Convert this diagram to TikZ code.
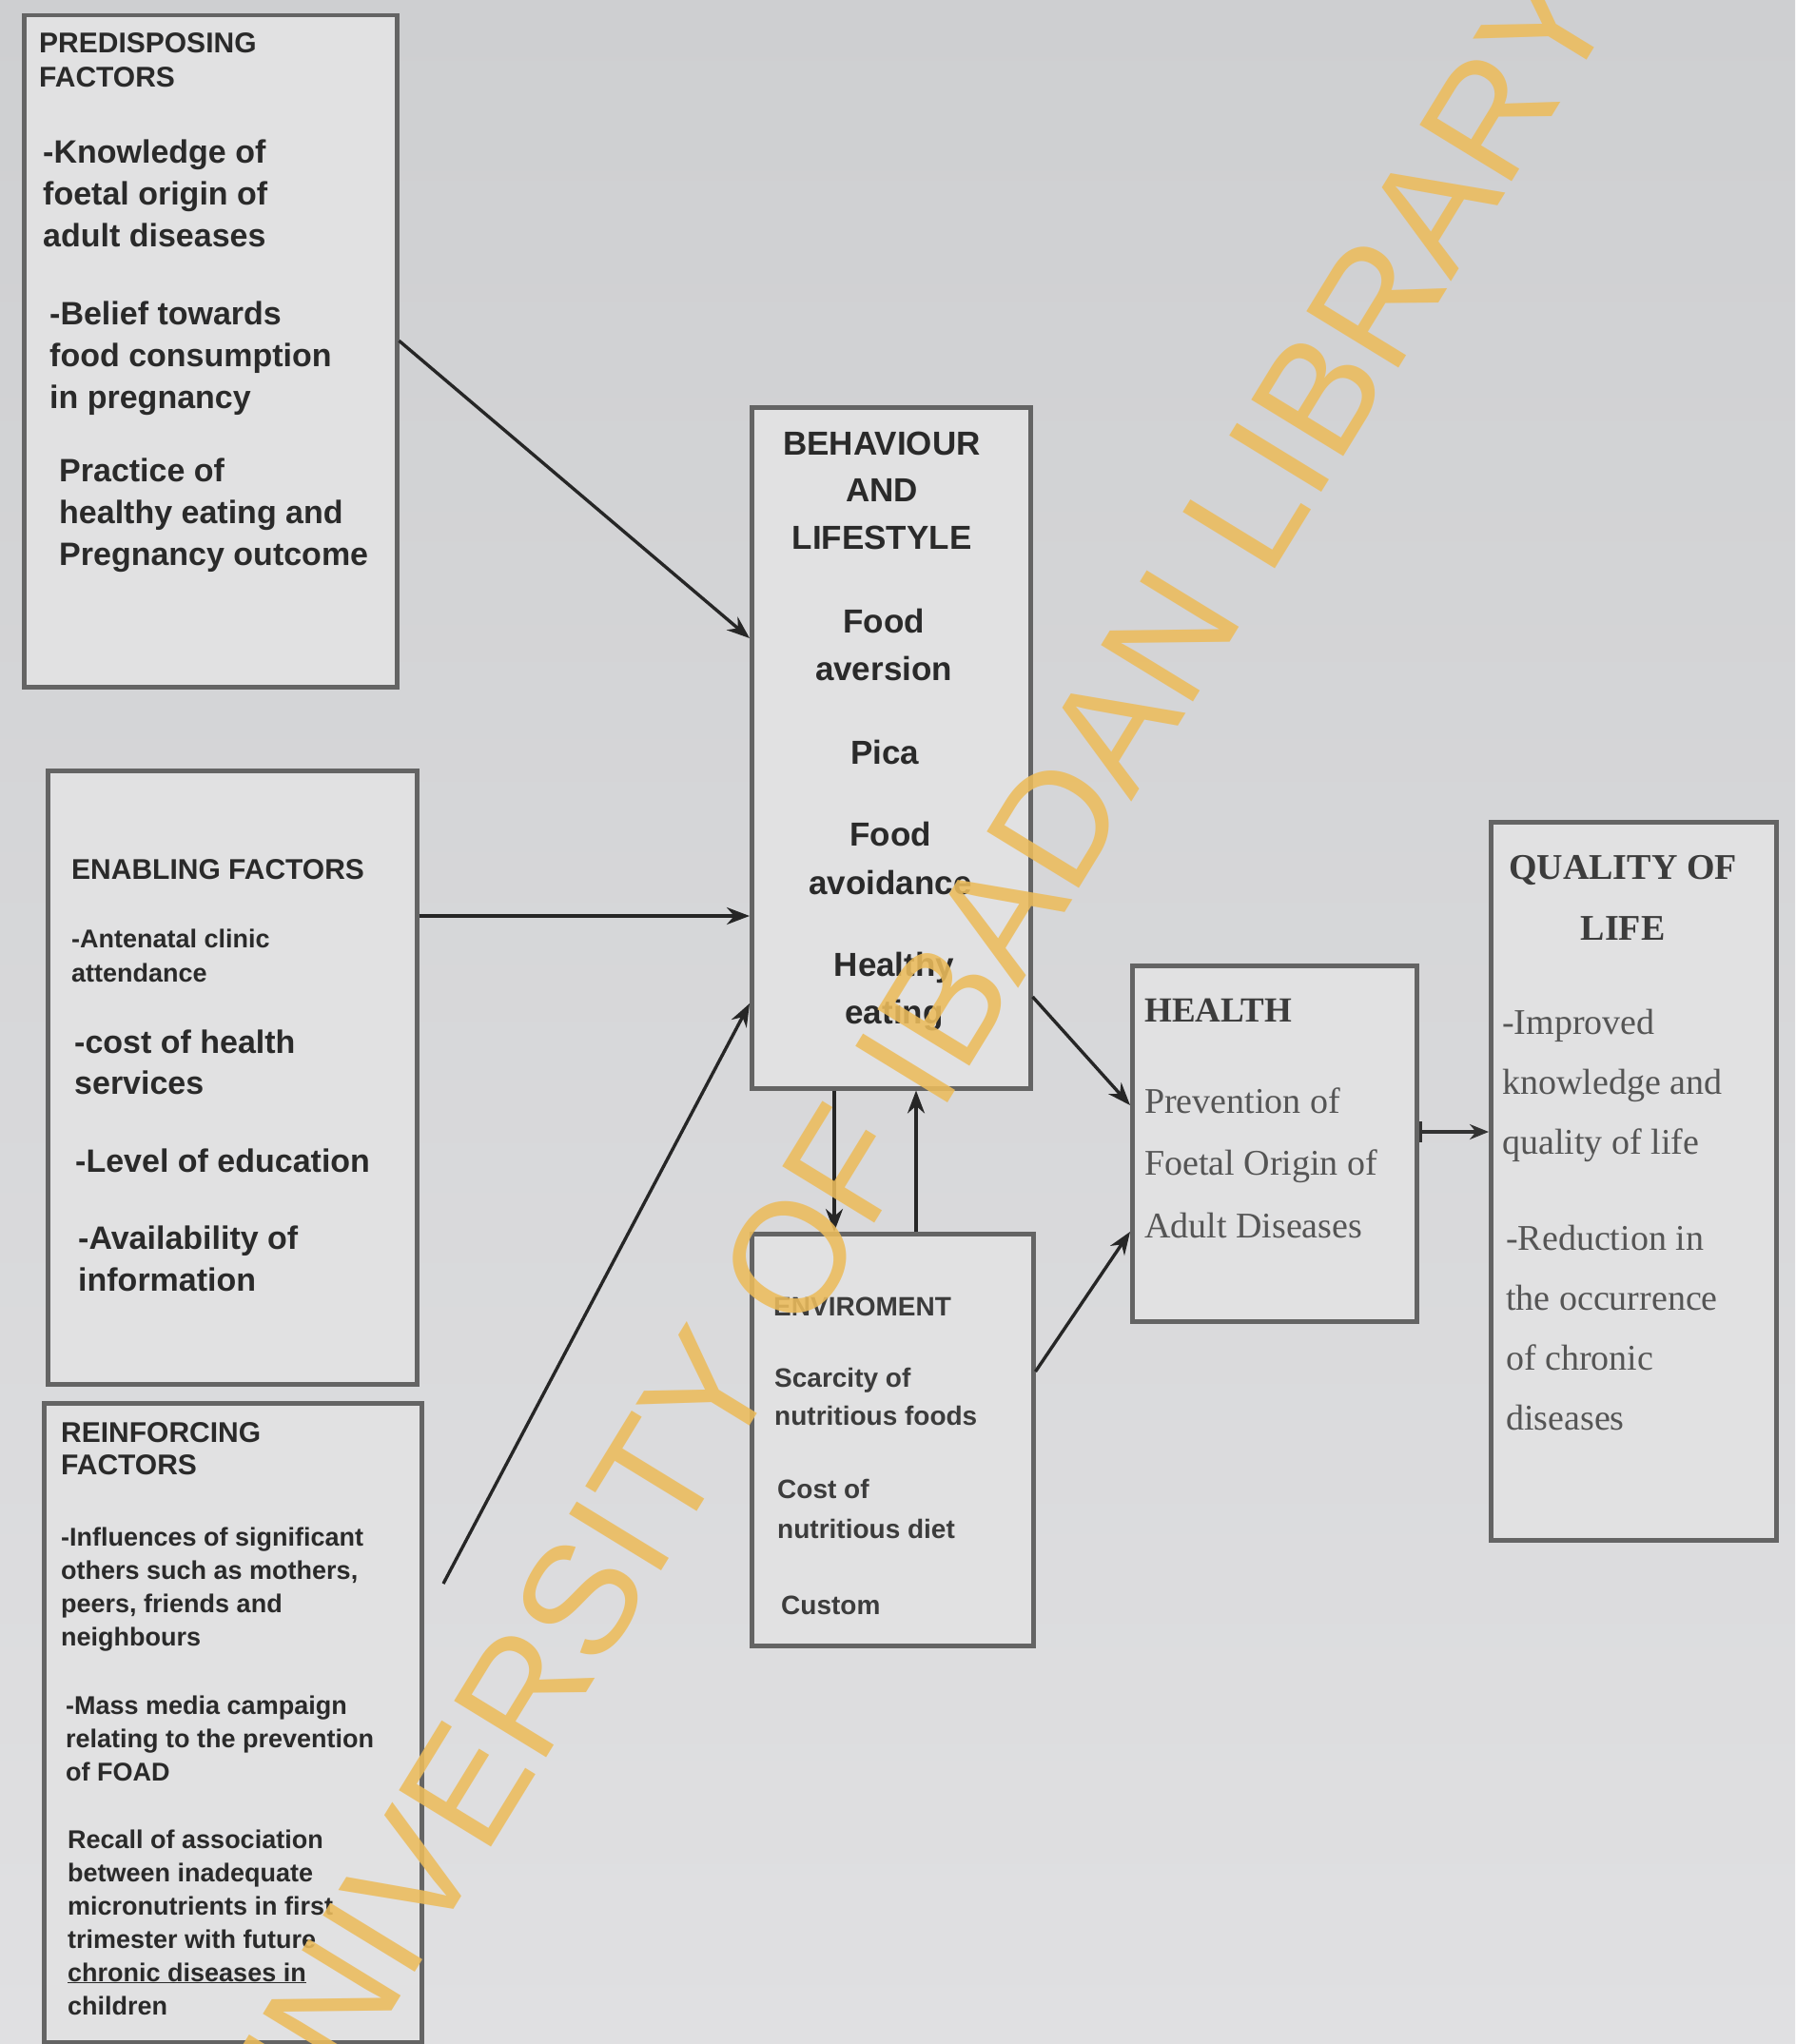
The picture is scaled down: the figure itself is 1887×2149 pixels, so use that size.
\documentclass[tikz,border=0pt]{standalone}
\usepackage{fontspec}
\setmainfont{Liberation Sans}
\newfontfamily\serifx{Liberation Serif}
\usetikzlibrary{arrows.meta}
\definecolor{bgtop}{RGB}{206,207,209}
\definecolor{bgbot}{RGB}{224,224,226}
\definecolor{boxfill}{RGB}{225,225,226}
\definecolor{boxline}{RGB}{100,100,100}
\definecolor{ink}{RGB}{42,42,42}
\definecolor{inkmid}{RGB}{60,60,60}
\definecolor{inklight}{RGB}{85,85,85}
\definecolor{wm}{RGB}{236,188,92}
\begin{document}
\begin{tikzpicture}[x=1pt,y=-1pt,
  box/.style={draw=boxline, line width=4.5pt, fill=boxfill, inner sep=0pt, anchor=north west},
  ln/.style={anchor=west, inner sep=0pt, text height=0.7em, text depth=0.1em, text=ink},
  ttl/.style={ln, font=\fontsize{30}{36}\selectfont\bfseries},
  bod/.style={ln, font=\fontsize{34}{44}\selectfont\bfseries},
  sml/.style={ln, font=\fontsize{27}{35}\selectfont\bfseries},
  beht/.style={ln, anchor=center, font=\fontsize{35}{44}\selectfont\bfseries},
  envt/.style={ln, text=inkmid, font=\fontsize{28}{36}\selectfont\bfseries},
  sert/.style={ln, text=inkmid, font=\fontsize{37}{44}\selectfont\serifx\bfseries},
  quat/.style={ln, anchor=center, text=inkmid, font=\fontsize{38}{44}\selectfont\serifx\bfseries},
  serb/.style={ln, text=inklight, font=\fontsize{38}{44}\selectfont\serifx},
  arr/.style={line width=3.4pt, draw=black!85, -{Stealth[length=24pt,width=18pt]}},
  barr/.style={line width=3.4pt, draw=black!80, {Bar[width=22pt]}-{Stealth[length=20pt,width=16pt]}}
]
\useasboundingbox (0,0) rectangle (1887,2149);
\shade[top color=bgtop, bottom color=bgbot] (0,0) rectangle (1887,2149);

% ---------- boxes ----------
\node[box, minimum width=392pt, minimum height=706pt] (pre) at (23,14) {};
\node[box, minimum width=388pt, minimum height=645pt] (ena) at (48,808) {};
\node[box, minimum width=397pt, minimum height=672pt] (rei) at (44,1473) {};
\node[box, minimum width=293pt, minimum height=716pt] (beh) at (788,426) {};
\node[box, minimum width=296pt, minimum height=433pt] (env) at (788,1295) {};
\node[box, minimum width=299pt, minimum height=374pt] (hea) at (1188,1013) {};
\node[box, minimum width=300pt, minimum height=755pt] (qua) at (1565,862) {};

\begin{scope}[yshift=-8pt]
% ---------- predisposing ----------
\foreach \t [count=\i from 0] in {PREDISPOSING,FACTORS}
  \node[ttl] (preT\i) at (41,45+36*\i) {\t};
\foreach \t [count=\i from 0] in {{-Knowledge of},{foetal origin of},{adult diseases}}
  \node[bod] (preA\i) at (45,160+44*\i) {\t};
\foreach \t [count=\i from 0] in {{-Belief towards},{food consumption},{in pregnancy}}
  \node[bod] (preB\i) at (52,330+44*\i) {\t};
\foreach \t [count=\i from 0] in {{Practice of},{healthy eating and},{Pregnancy outcome}}
  \node[bod] (preC\i) at (62,495+44*\i) {\t};

% ---------- enabling ----------
\node[ttl] (enaT) at (75,913) {ENABLING FACTORS};
\foreach \t [count=\i from 0] in {{-Antenatal clinic},{attendance}}
  \node[sml] (enaA\i) at (75,985+36*\i) {\t};
\foreach \t [count=\i from 0] in {{-cost of health},{services}}
  \node[bod] (enaB\i) at (78,1096+43*\i) {\t};
\node[bod] (enaC) at (79,1221) {-Level of education};
\foreach \t [count=\i from 0] in {{-Availability of},{information}}
  \node[bod] (enaD\i) at (82,1302+44*\i) {\t};

% ---------- reinforcing ----------
\foreach \t [count=\i from 0] in {REINFORCING,FACTORS}
  \node[ttl] (reiT\i) at (64,1505+34*\i) {\t};
\foreach \t [count=\i from 0] in {{-Influences of significant},{others such as mothers,},{peers, friends and},{neighbours}}
  \node[sml] (reiA\i) at (64,1614+35*\i) {\t};
\foreach \t [count=\i from 0] in {{-Mass media campaign},{relating to the prevention},{of FOAD}}
  \node[sml] (reiB\i) at (69,1791+35*\i) {\t};
\foreach \t [count=\i from 0] in {{Recall of association},{between inadequate},{micronutrients in first},{trimester with future},{\underline{chronic diseases in}},{children}}
  \node[sml] (reiC\i) at (71,1932+35*\i) {\t};

% ---------- behaviour ----------
\foreach \t [count=\i from 0] in {BEHAVIOUR,AND,LIFESTYLE}
  \node[beht] (behT\i) at (927,467+49.5*\i) {\t};
\foreach \t [count=\i from 0] in {Food,aversion}
  \node[beht] (behA\i) at (929,654+50*\i) {\t};
\node[beht] (behB) at (930,792) {Pica};
\foreach \t [count=\i from 0] in {Food,avoidance}
  \node[beht] (behC\i) at (936,878+51*\i) {\t};
\foreach \t [count=\i from 0] in {Healthy,eating}
  \node[beht] (behD\i) at (940,1015+50*\i) {\t};

% ---------- environment ----------
\node[envt] (envT) at (813,1372) {ENVIROMENT};
\foreach \t [count=\i from 0] in {{Scarcity of},{nutritious foods}}
  \node[envt] (envA\i) at (814,1447+40*\i) {\t};
\foreach \t [count=\i from 0] in {{Cost of},{nutritious diet}}
  \node[envt] (envB\i) at (817,1564+42*\i) {\t};
\node[envt] (envC) at (821,1686) {Custom};

% ---------- health ----------
\node[sert] (heaT) at (1203,1063) {HEALTH};
\foreach \t [count=\i from 0] in {{Prevention of},{Foetal Origin of},{Adult Diseases}}
  \node[serb] (heaA\i) at (1203,1159+65.5*\i) {\t};

% ---------- quality of life ----------
\node[quat] (quaT0) at (1706,913) {QUALITY OF};
\node[quat] (quaT1) at (1706,977) {LIFE};
\foreach \t [count=\i from 0] in {{-Improved},{knowledge and},{quality of life}}
  \node[serb] (quaA\i) at (1579,1076+63*\i) {\t};
\foreach \t [count=\i from 0] in {{-Reduction in},{the occurrence},{of chronic},{diseases}}
  \node[serb] (quaB\i) at (1583,1303+63*\i) {\t};
\end{scope}

% ---------- connectors ----------
\coordinate (reiout) at (466,1665);
\draw[arr] ([yshift=11pt]pre.east) -- (beh.west |- 0,671);
\draw[arr] (ena.east |- 0,963) -- (beh.west |- 0,963);
\draw[arr] (reiout) -- (beh.west |- 0,1055);
\draw[arr] (beh.south -| 877,0) -- (env.north -| 877,0);
\draw[arr] (env.north -| 963,0) -- (beh.south -| 963,0);
\draw[arr] (beh.east |- 0,1048) -- (hea.west |- 0,1162);
\draw[arr] (env.east |- 0,1442) -- (hea.west |- 0,1295);
\draw[barr] (hea.east |- 0,1190) -- (qua.west |- 0,1190);

% ---------- watermark ----------
\node[rotate=58.5, inner sep=0pt, text=wm, opacity=0.88,
      font=\fontsize{165}{165}\selectfont] (wmark) at (954,1120) {UNIVERSITY OF IBADAN LIBRARY};
\end{tikzpicture}
\end{document}
